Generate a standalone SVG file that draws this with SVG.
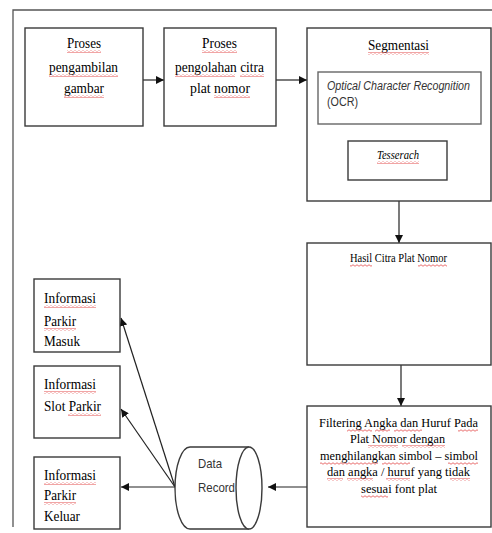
<svg xmlns="http://www.w3.org/2000/svg" width="492" height="533" viewBox="0 0 492 533">
<defs>
<marker id="ah" viewBox="0 0 10 10" refX="10" refY="5" markerWidth="8" markerHeight="8" markerUnits="userSpaceOnUse" orient="auto">
<path d="M0,0 L10,5 L0,10 Z" fill="#111"/>
</marker>
<pattern id="wavy" width="4" height="3" patternUnits="userSpaceOnUse">
<path d="M0,1.5 Q1,0 2,1.5 T4,1.5" fill="none" stroke="#e03030" stroke-width="0.7"/>
</pattern>
<style>
.box{fill:#fff;stroke:#3a3a3a;stroke-width:1.4}
.frame{fill:none;stroke:#555;stroke-width:1.3}
.conn{fill:none;stroke:#222;stroke-width:1.2;marker-end:url(#ah)}
.t{font-family:"Liberation Serif","Times New Roman",serif;font-size:15px;fill:#000}
.s{font-size:12.5px}
.i{font-style:italic}
.sans{font-family:"Liberation Sans",Arial,sans-serif;font-size:12px;fill:#333}
.sq{fill:url(#wavy)}
</style>
</defs>
<rect width="492" height="533" fill="#fff"/>
<path class="frame" d="M13,527 L13,10 L492,10"/>

<g id="connectors">
<line class="conn" x1="143" y1="80" x2="164" y2="80"/>
<line class="conn" x1="276" y1="80" x2="307" y2="80"/>
<line class="conn" x1="399" y1="201" x2="399" y2="243"/>
<line class="conn" x1="401" y1="365" x2="401" y2="406"/>
<line class="conn" x1="307" y1="487" x2="268" y2="487"/>
<line class="conn" x1="175" y1="487" x2="121" y2="487"/>
<line class="conn" x1="175" y1="487" x2="121" y2="409"/>
<line class="conn" x1="175" y1="487" x2="121" y2="318"/>
</g>

<g id="n1">
<rect class="box" x="25" y="28" width="118" height="98"/>
<text class="t" x="67" y="48" textLength="34" lengthAdjust="spacingAndGlyphs">Proses</text>
<text class="t" x="49" y="72" textLength="69" lengthAdjust="spacingAndGlyphs">pengambilan</text>
<text class="t" x="64" y="93" textLength="40" lengthAdjust="spacingAndGlyphs">gambar</text>
<rect class="sq" x="67" y="50" width="34" height="3"/>
<rect class="sq" x="49" y="74" width="69" height="3"/>
<rect class="sq" x="64" y="95" width="40" height="3"/>
</g>

<g id="n2">
<rect class="box" x="164" y="28" width="112" height="98"/>
<text class="t" x="202" y="48" textLength="35" lengthAdjust="spacingAndGlyphs">Proses</text>
<text class="t" x="175" y="72" textLength="89" lengthAdjust="spacingAndGlyphs">pengolahan citra</text>
<text class="t" x="190" y="93" textLength="60" lengthAdjust="spacingAndGlyphs">plat nomor</text>
<rect class="sq" x="202" y="50" width="35" height="3"/>
<rect class="sq" x="175" y="74" width="60" height="3"/>
<rect class="sq" x="240" y="74" width="24" height="3"/>
<rect class="sq" x="214" y="95" width="36" height="3"/>
</g>

<g id="n3">
<rect class="box" x="307" y="28" width="184" height="173"/>
<text class="t" x="368" y="50" textLength="61" lengthAdjust="spacingAndGlyphs">Segmentasi</text>
<rect class="sq" x="368" y="52" width="61" height="3"/>
<g id="n3a">
<rect class="box" x="318" y="72" width="163" height="52" style="stroke:#666"/>
<text class="sans i" x="327" y="90" textLength="143" lengthAdjust="spacingAndGlyphs">Optical Character Recognition</text>
<text class="sans" x="327" y="106" textLength="31" lengthAdjust="spacingAndGlyphs">(OCR)</text>
</g>
<g id="n3b">
<rect class="box" x="348" y="141" width="99" height="39"/>
<text class="t i s" x="377" y="159" textLength="42" lengthAdjust="spacingAndGlyphs">Tesserach</text>
<rect class="sq" x="377" y="161" width="42" height="3"/>
</g>
</g>

<g id="n4">
<rect class="box" x="307" y="243" width="184" height="122"/>
<text class="t s" x="350" y="262" textLength="97" lengthAdjust="spacingAndGlyphs">Hasil Citra Plat Nomor</text>
<rect class="sq" x="350" y="264" width="22" height="3"/>
<rect class="sq" x="418" y="264" width="29" height="3"/>
</g>

<g id="n5">
<rect class="box" x="307" y="406" width="184" height="121"/>
<text class="t s" x="319" y="427" textLength="159" lengthAdjust="spacingAndGlyphs">Filtering Angka dan Huruf Pada</text>
<text class="t s" x="350" y="443" textLength="95" lengthAdjust="spacingAndGlyphs">Plat Nomor dengan</text>
<text class="t s" x="320" y="460" textLength="158" lengthAdjust="spacingAndGlyphs">menghilangkan simbol – simbol</text>
<text class="t s" x="327" y="476" textLength="143" lengthAdjust="spacingAndGlyphs">dan angka / huruf yang tidak</text>
<text class="t s" x="361" y="493" textLength="76" lengthAdjust="spacingAndGlyphs">sesuai font plat</text>
<rect class="sq" x="347" y="429" width="25" height="3"/>
<rect class="sq" x="375" y="429" width="15" height="3"/>
<rect class="sq" x="394" y="429" width="28" height="3"/>
<rect class="sq" x="458" y="429" width="20" height="3"/>
<rect class="sq" x="368" y="445" width="30" height="3"/>
<rect class="sq" x="402" y="445" width="43" height="3"/>
<rect class="sq" x="320" y="462" width="58" height="3"/>
<rect class="sq" x="382" y="462" width="28" height="3"/>
<rect class="sq" x="448" y="462" width="30" height="3"/>
<rect class="sq" x="327" y="478" width="16" height="3"/>
<rect class="sq" x="347" y="478" width="26" height="3"/>
<rect class="sq" x="386" y="478" width="24" height="3"/>
<rect class="sq" x="450" y="478" width="20" height="3"/>
<rect class="sq" x="361" y="495" width="27" height="3"/>
</g>

<g id="n6">
<path class="box" d="M249,447 L190,447 A15,41 0 0 0 190,529 L249,529"/>
<ellipse class="box" cx="249" cy="488" rx="13" ry="41"/>
<text class="sans" x="198" y="468" textLength="24" lengthAdjust="spacingAndGlyphs" style="font-size:13px">Data</text>
<text class="sans" x="198" y="492" textLength="37" lengthAdjust="spacingAndGlyphs" style="font-size:13px">Record</text>
</g>

<g id="n7">
<rect class="box" x="34" y="279" width="86" height="73"/>
<text class="t" x="44" y="303" textLength="52" lengthAdjust="spacingAndGlyphs">Informasi</text>
<text class="t" x="44" y="326" textLength="32" lengthAdjust="spacingAndGlyphs">Parkir</text>
<text class="t" x="44" y="346" textLength="36" lengthAdjust="spacingAndGlyphs">Masuk</text>
<rect class="sq" x="44" y="305" width="52" height="3"/>
<rect class="sq" x="44" y="328" width="32" height="3"/>
</g>

<g id="n8">
<rect class="box" x="34" y="366" width="86" height="72"/>
<text class="t" x="44" y="389" textLength="52" lengthAdjust="spacingAndGlyphs">Informasi</text>
<text class="t" x="44" y="411" textLength="57" lengthAdjust="spacingAndGlyphs">Slot Parkir</text>
<rect class="sq" x="44" y="391" width="52" height="3"/>
<rect class="sq" x="68" y="413" width="33" height="3"/>
</g>

<g id="n9">
<rect class="box" x="34" y="457" width="86" height="72"/>
<text class="t" x="44" y="480" textLength="52" lengthAdjust="spacingAndGlyphs">Informasi</text>
<text class="t" x="44" y="500" textLength="32" lengthAdjust="spacingAndGlyphs">Parkir</text>
<text class="t" x="44" y="521" textLength="36" lengthAdjust="spacingAndGlyphs">Keluar</text>
<rect class="sq" x="44" y="482" width="52" height="3"/>
<rect class="sq" x="44" y="502" width="32" height="3"/>
</g>
</svg>
